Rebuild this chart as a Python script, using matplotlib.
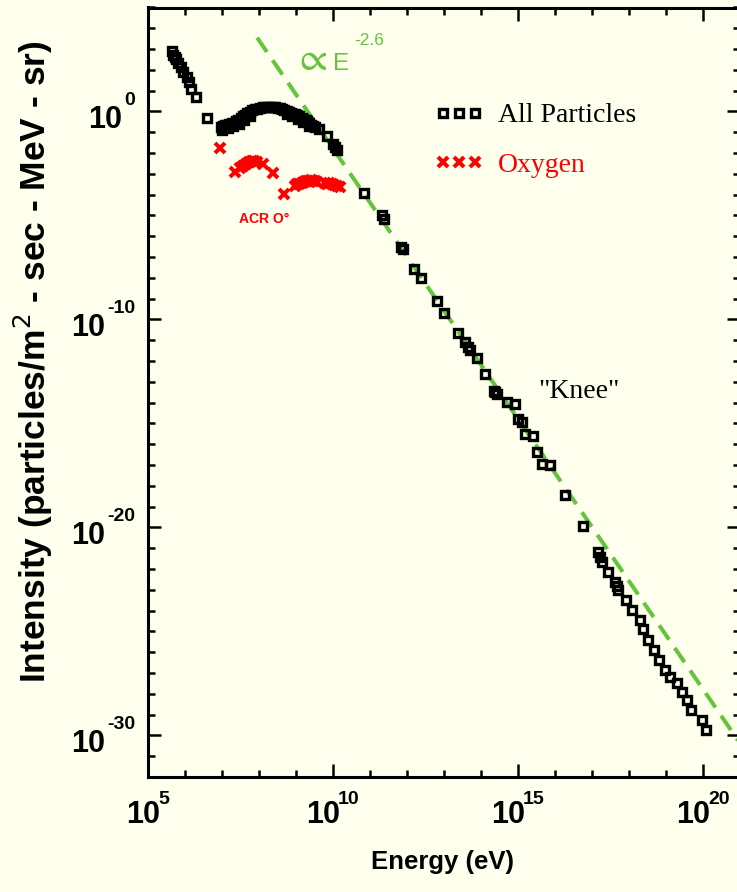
import matplotlib
matplotlib.use("Agg")
import matplotlib.pyplot as plt
from matplotlib.font_manager import FontProperties

# ---------------------------------------------------------------------------
# Cosmic-ray energy spectrum: log10(energy / eV) and log10(intensity)
# ---------------------------------------------------------------------------
all_log_e = [
    5.64, 5.68, 5.72, 5.76, 5.82, 5.88, 5.95, 6.05, 6.12, 6.15, 6.29, 6.59,
    6.97, 7.02, 7.08, 7.14, 7.20, 7.26, 7.32, 7.38, 7.44, 7.50, 7.56, 7.62,
    7.68, 7.75, 7.82, 7.88, 7.95, 8.02, 8.10, 8.17, 8.23, 8.30, 8.37, 8.44,
    8.50, 8.56, 8.62, 8.68, 8.75, 8.80, 8.86, 8.92, 8.98, 9.04, 9.09, 9.15,
    9.20, 9.26, 9.31, 9.36, 9.41, 9.47, 9.52, 9.61, 9.85, 9.99, 10.05, 10.10,
    7.00, 7.15, 7.30, 7.45, 7.60, 7.75, 8.75, 8.90, 9.05, 9.20, 9.35,
    10.84, 11.32, 11.38, 11.83, 11.88, 12.19, 12.37, 12.80, 13.00, 13.39,
    13.57, 13.66, 13.70, 13.88, 14.11, 14.36, 14.38, 14.44, 14.69, 14.92,
    15.01, 15.10, 15.19, 15.41, 15.50, 15.64, 15.86, 16.27, 16.75,
    17.15, 17.22, 17.26, 17.44, 17.62, 17.68, 17.71, 17.92, 18.07, 18.30,
    18.39, 18.52, 18.68, 18.82, 18.97, 19.12, 19.29, 19.42, 19.56, 19.67,
    19.96, 20.08,
]
all_log_i = [
    2.90, 2.74, 2.62, 2.53, 2.32, 2.13, 1.89, 1.65, 1.41, 1.09, 0.69, -0.30,
    -0.75, -0.72, -0.67, -0.63, -0.59, -0.56, -0.53, -0.47, -0.40, -0.32, -0.24, -0.16,
    -0.08, -0.01, 0.05, 0.10, 0.14, 0.18, 0.21, 0.22, 0.21, 0.22, 0.21, 0.20,
    0.18, 0.15, 0.11, 0.06, 0.01, -0.03, -0.08, -0.11, -0.14, -0.19, -0.24, -0.30,
    -0.35, -0.41, -0.47, -0.55, -0.63, -0.69, -0.75, -0.83, -1.20, -1.55, -1.70, -1.84,
    -0.88, -0.80, -0.70, -0.58, -0.42, -0.22, -0.12, -0.24, -0.36, -0.52, -0.68,
    -3.93, -5.00, -5.16, -6.52, -6.60, -7.56, -8.01, -9.09, -9.70, -10.66,
    -11.09, -11.33, -11.49, -11.84, -12.61, -13.45, -13.49, -13.57, -13.98, -14.06,
    -14.78, -14.94, -15.50, -15.58, -16.38, -16.94, -17.02, -18.46, -19.95,
    -21.19, -21.43, -21.67, -22.12, -22.63, -22.84, -23.03, -23.51, -23.96, -24.47,
    -24.87, -25.40, -25.91, -26.36, -26.84, -27.19, -27.48, -27.92, -28.32, -28.80,
    -29.28, -29.73,
]

oxy_log_e = [
    6.95, 7.35, 7.49, 7.58, 7.65, 7.72, 7.80, 7.87, 7.94, 8.10, 8.39, 8.68,
    8.97, 9.03, 9.09, 9.15, 9.22, 9.28, 9.33, 9.40, 9.45, 9.50, 9.56,
    9.78, 9.83, 9.90, 9.96, 10.03, 10.10, 10.19,
]
oxy_log_i = [
    -1.75, -2.92, -2.71, -2.60, -2.52, -2.42, -2.36, -2.40, -2.44, -2.52, -2.96, -3.99,
    -3.56, -3.50, -3.48, -3.43, -3.40, -3.36, -3.35, -3.30, -3.32, -3.36, -3.40,
    -3.45, -3.48, -3.46, -3.51, -3.53, -3.56, -3.64,
]

# Power-law guide  I = 10**norm * E**index
guide_index = -2.6
guide_log_norm = 24.22
guide_log_e = [7.95, 21.0]

x_major_exps = [5, 10, 15, 20]
y_major_exps = [0, -10, -20, -30]

series_labels = ["All Particles", "Oxygen"]

# ---------------------------------------------------------------------------
BG = "#FFFFEE"
GREEN = "#63C53A"
RED = "#FF0000"
W, H, DPI = 737, 892, 100
PT = 72.0 / DPI  # points per pixel

fig = plt.figure(figsize=(W / DPI, H / DPI), dpi=DPI, facecolor=BG)
ax = fig.add_axes([148 / W, (H - 777) / H, 592 / W, 769.5 / H])
ax.set_facecolor(BG)
ax.set_xscale("log")
ax.set_yscale("log")
ax.set_xlim(1e5, 1e21)
ax.set_ylim(1e-32, 1e5)

for s in ax.spines.values():
    s.set_linewidth(2.2)

ax.set_xticks([10.0 ** e for e in x_major_exps])
ax.set_xticks([10.0 ** k for k in range(5, 22) if k not in x_major_exps], minor=True)
ax.set_yticks([10.0 ** e for e in y_major_exps])
ax.set_yticks([10.0 ** k for k in range(-32, 6) if k not in y_major_exps], minor=True)
ax.tick_params(which="both", direction="in", top=True, right=True,
               labelbottom=False, labelleft=False, width=1.8, color="black")
ax.tick_params(which="major", length=9.5)
ax.tick_params(which="minor", length=5)

# power-law guide line
ge = [10.0 ** v for v in guide_log_e]
gi = [10.0 ** (guide_log_norm + guide_index * v) for v in guide_log_e]
ax.plot(ge, gi, color=GREEN, lw=2.9, linestyle=(0, (4.3, 2.5)),
        dash_capstyle="butt", zorder=2)

# data
ax.plot([10.0 ** v for v in all_log_e], [10.0 ** v for v in all_log_i],
        linestyle="none", marker="s", ms=5.8, mew=2.4, mec="black",
        mfc="none", label=series_labels[0], zorder=3)
ax.plot([10.0 ** v for v in oxy_log_e], [10.0 ** v for v in oxy_log_i],
        linestyle="none", marker="x", ms=7.3, mew=2.9, mec=RED,
        label=series_labels[1], zorder=3)

# tick labels: "10" with a raised exponent
renderer = fig.canvas.get_renderer()
sans = ["Liberation Sans", "DejaVu Sans"]
fp_base = FontProperties(family=sans, weight="bold", size=22)
fp_exp = FontProperties(family=sans, weight="bold", size=14)


def width_px(s, fp):
    w, _, _ = renderer.get_text_width_height_descent(s, fp, ismath=False)
    return w


wb = width_px("10", fp_base)
for e in x_major_exps:
    es = str(e)
    we = width_px(es, fp_exp)
    x0 = -(wb + we - 2) / 2.0
    ax.annotate("10", xy=(10.0 ** e, 0), xycoords=("data", "axes fraction"),
                xytext=(x0 * PT, -46 * PT), textcoords="offset points",
                ha="left", va="baseline", fontproperties=fp_base,
                annotation_clip=False)
    ax.annotate(es, xy=(10.0 ** e, 0), xycoords=("data", "axes fraction"),
                xytext=((x0 + wb - 2) * PT, -27 * PT), textcoords="offset points",
                ha="left", va="baseline", fontproperties=fp_exp,
                annotation_clip=False)

for e in y_major_exps:
    es = str(e)
    we = width_px(es, fp_exp)
    ax.annotate(es, xy=(0, 10.0 ** e), xycoords=("axes fraction", "data"),
                xytext=(-13 * PT, 6 * PT), textcoords="offset points",
                ha="right", va="baseline", fontproperties=fp_exp,
                annotation_clip=False)
    ax.annotate("10", xy=(0, 10.0 ** e), xycoords=("axes fraction", "data"),
                xytext=((-13 - we - 2) * PT, -17 * PT), textcoords="offset points",
                ha="right", va="baseline", fontproperties=fp_base,
                annotation_clip=False)

# axis titles
ax.set_xlabel("Energy (eV)", fontproperties=FontProperties(
    family=sans, weight="bold", size=18.5), va="center")
ax.xaxis.set_label_coords(0.497, -0.110)
ax.set_ylabel("Intensity (particles/m$^2$ - sec - MeV - sr)",
              fontproperties=FontProperties(family=sans, weight="bold", size=25.5),
              va="center")
ax.yaxis.set_label_coords(-0.194, 0.540)

# annotations
ax.text(0.2465, 0.9188, r"$\propto$", transform=ax.transAxes, color=GREEN,
        fontsize=29, math_fontfamily="stix", ha="left", va="baseline")
ax.text(0.3120, 0.9188, "E", transform=ax.transAxes, color=GREEN,
        fontsize=17.5, family=sans, ha="left", va="baseline")
ax.text(0.3480, 0.9513, "-2.6", transform=ax.transAxes, color=GREEN,
        fontsize=12.5, family=sans, ha="left", va="baseline")
ax.text(0.1537, 0.720, "ACR O\u00b0", transform=ax.transAxes, color=RED,
        fontsize=10, fontweight="bold", family=sans, ha="left", va="baseline")
ax.text(0.6588, 0.4925, '"Knee"', transform=ax.transAxes, color="black",
        fontsize=20, family="Liberation Serif", ha="left", va="baseline")

leg = ax.legend(loc="upper left", bbox_to_anchor=(0.4843, 0.876),
                frameon=False, numpoints=3, handlelength=1.75,
                handletextpad=0.52, labelspacing=0.86, borderpad=0,
                borderaxespad=0,
                prop=FontProperties(family="Liberation Serif", size=20),
                labelcolor="markeredgecolor")

fig.savefig("out.png", dpi=DPI, facecolor=BG)
